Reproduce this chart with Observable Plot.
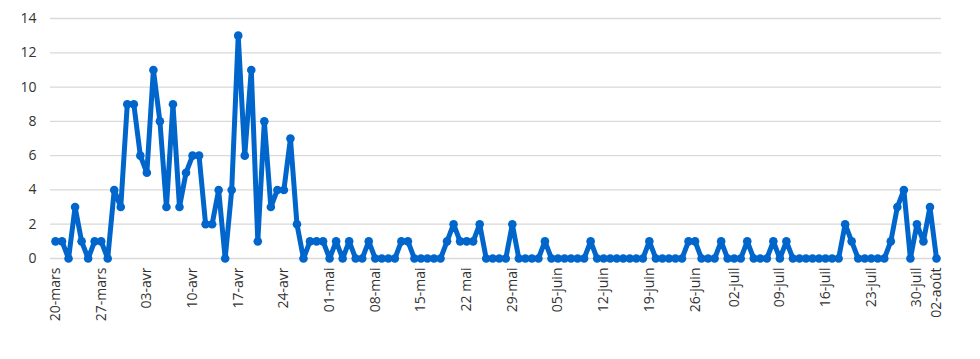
<!DOCTYPE html>
<html>
<head>
<meta charset="utf-8">
<script src="https://cdn.jsdelivr.net/npm/d3@7"></script>
<script src="https://cdn.jsdelivr.net/npm/@observablehq/plot@0.6"></script>
<style>
  html, body { margin: 0; padding: 0; background: #ffffff; }
  #chart { width: 980px; height: 359px; overflow: hidden; }
</style>
</head>
<body>
<div id="chart"></div>
<script>
// Daily values from 20 March to 2 August
const startDate = "2020-03-20";
const values = [
  1, 1, 0, 3, 1, 0, 1, 1, 0, 4,
  3, 9, 9, 6, 5, 11, 8, 3, 9, 3,
  5, 6, 6, 2, 2, 4, 0, 4, 13, 6,
  11, 1, 8, 3, 4, 4, 7, 2, 0, 1,
  1, 1, 0, 1, 0, 1, 0, 0, 1, 0,
  0, 0, 0, 1, 1, 0, 0, 0, 0, 0,
  1, 2, 1, 1, 1, 2, 0, 0, 0, 0,
  2, 0, 0, 0, 0, 1, 0, 0, 0, 0,
  0, 0, 1, 0, 0, 0, 0, 0, 0, 0,
  0, 1, 0, 0, 0, 0, 0, 1, 1, 0,
  0, 0, 1, 0, 0, 0, 1, 0, 0, 0,
  1, 0, 1, 0, 0, 0, 0, 0, 0, 0,
  0, 2, 1, 0, 0, 0, 0, 0, 1, 3,
  4, 0, 2, 1, 3, 0
];
const tickDates = [
  "2020-03-20", "2020-03-27", "2020-04-03", "2020-04-10", "2020-04-17", "2020-04-24",
  "2020-05-01", "2020-05-08", "2020-05-15", "2020-05-22", "2020-05-29",
  "2020-06-05", "2020-06-12", "2020-06-19", "2020-06-26",
  "2020-07-02", "2020-07-09", "2020-07-16", "2020-07-23", "2020-07-30", "2020-08-02"
];
const tickLabels = [
  "20-mars", "27-mars", "03-avr", "10-avr", "17-avr", "24-avr",
  "01-mai", "08-mai", "15-mai", "22 mai", "29-mai",
  "05-juin", "12-juin", "19-juin", "26-juin",
  "02-juil", "09-juil", "16-juil", "23-juil", "30-juil", "02-août"
];
const yTicks = [0, 2, 4, 6, 8, 10, 12, 14];

const start = new Date(startDate);
const data = values.map((v, i) => ({date: d3.utcDay.offset(start, i), value: v}));
const tickDateObjs = tickDates.map(s => new Date(s));
const labelByTime = new Map(tickDateObjs.map((d, i) => [+d, tickLabels[i]]));

const blue = "#0066cc";

const chart = Plot.plot({
  width: 980,
  height: 359,
  marginLeft: 50,
  marginRight: 39,
  marginTop: 18,
  marginBottom: 101,
  style: {fontFamily: "'Open Sans', sans-serif", fontSize: "14px", color: "#333333", background: "#ffffff"},
  x: {type: "utc", domain: [data[0].date, data[data.length - 1].date], inset: 5},
  y: {domain: [0, 14]},
  marks: [
    Plot.gridY(yTicks, {stroke: "#d9d9d9", strokeOpacity: 1, strokeWidth: 1.3}),
    Plot.axisY({ticks: yTicks, tickSize: 0, tickPadding: 14, label: null}),
    Plot.axisX({ticks: tickDateObjs, tickFormat: d => labelByTime.get(+d), tickSize: 0, tickRotate: -90, tickPadding: 9, label: null}),
    Plot.line(data, {x: "date", y: "value", stroke: blue, strokeWidth: 5, strokeLinejoin: "round"}),
    Plot.dot(data, {x: "date", y: "value", r: 4.3, fill: blue, stroke: "none"})
  ]
});
document.getElementById("chart").appendChild(chart);
</script>
</body>
</html>
